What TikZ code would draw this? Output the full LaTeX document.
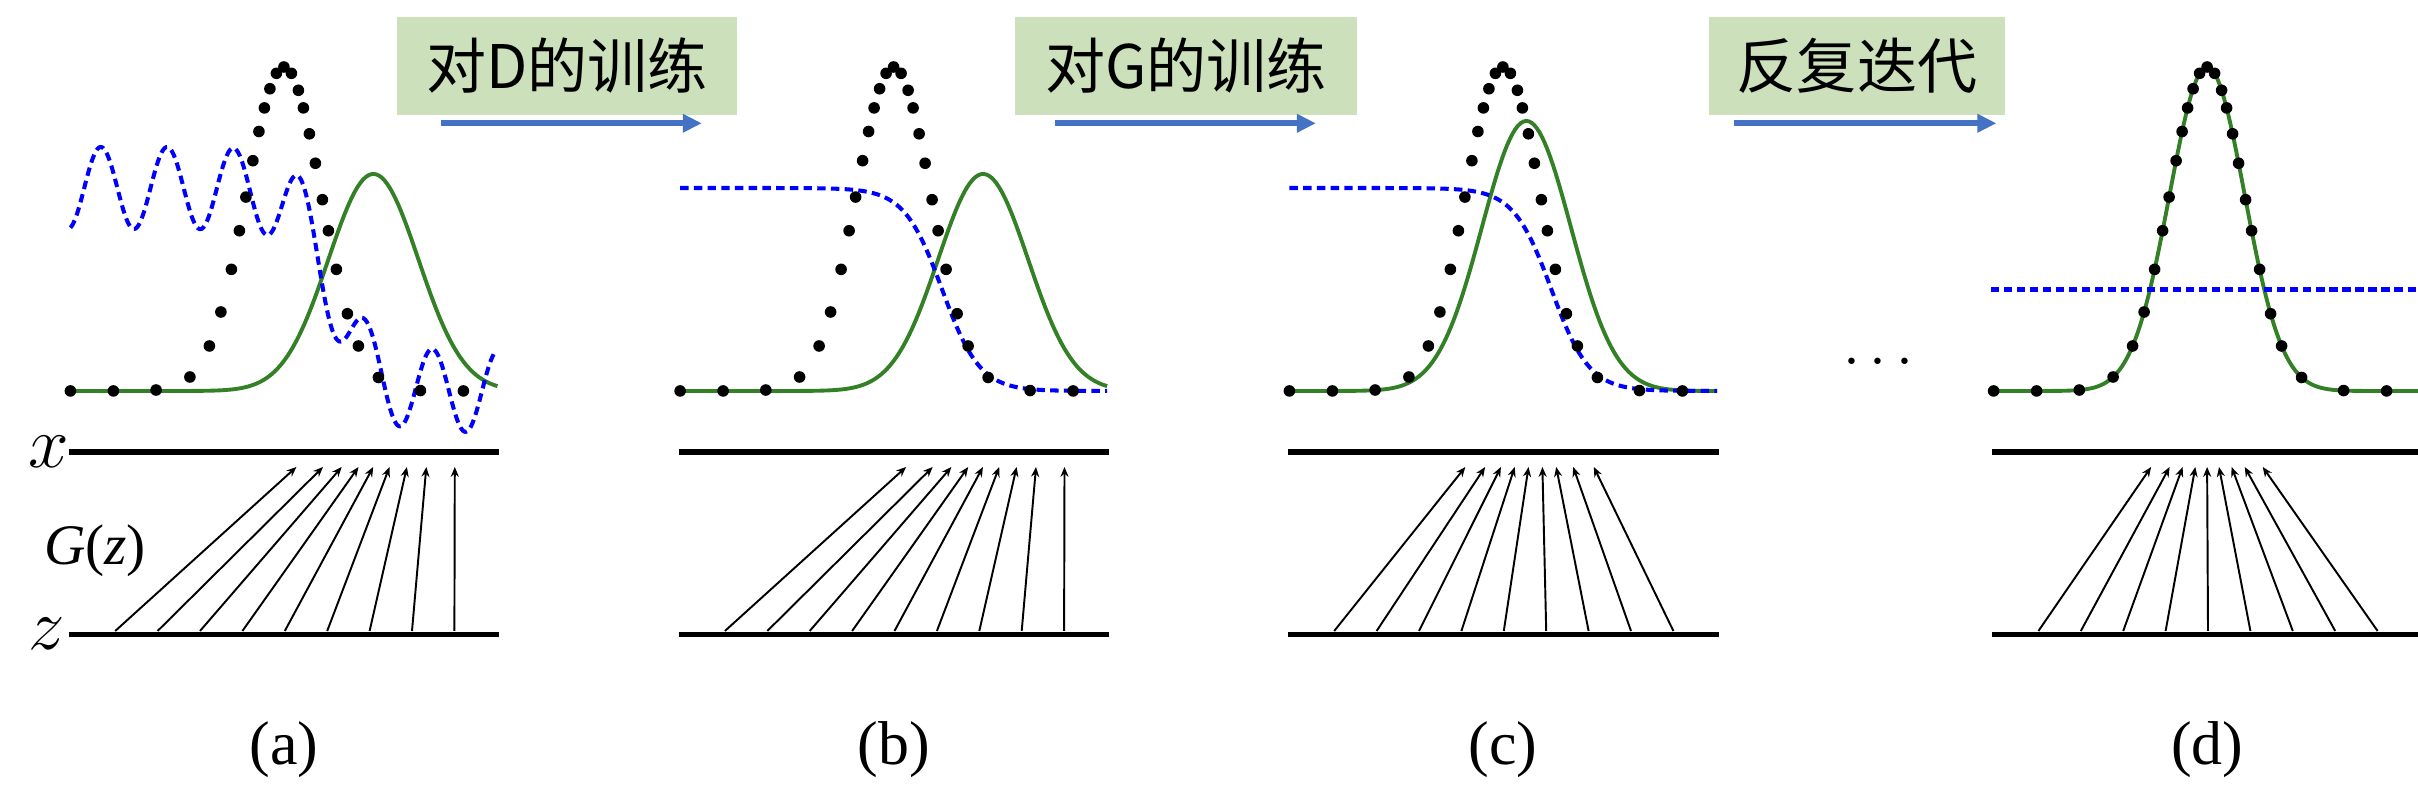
\documentclass[tikz,border=0pt]{standalone}
\usepackage{fontspec}
\setmainfont{Liberation Serif}
\newfontfamily\cjk{Noto Sans CJK SC}
\usetikzlibrary{arrows.meta}
\definecolor{boxgreen}{RGB}{204,224,187}
\definecolor{arrowblue}{RGB}{68,114,196}
\definecolor{pgreen}{RGB}{52,128,38}
\definecolor{dblue}{RGB}{0,0,255}
\newcommand\PanelAxes[2]{%
  \foreach \t [count=\k from 0] in {#2} \draw[garrow] ({44.8+42.4*\k},631) -- (\t,467);
  \draw[axisline] (-1.5,452) -- (#1,452);
  \draw[axisline] (-1.5,634.5) -- (#1,634.5);
}
\newcommand\DataDots{%
  \foreach \d in {-213.5,-170.5,-127.8,-94,-74.5,-63,-52.5,-44.5,-38,-31,-25,-19.5,-14,-7.5,0,7.5,14.5,19.5,25.5,31.5,38.5,44.5,52.5,63.5,74.5,94.5,136.5,179.5}
    \fill[pdata] ({213.5+\d},{391-gauss(\d,0,37.5,324)}) circle[radius=1.65pt];
}
\begin{document}
\begin{tikzpicture}[x=0.01cm,y=-0.01cm,
  titlebox/.style={fill=boxgreen, minimum height=27.9pt, inner sep=0pt, font=\cjk\fontsize{17.07}{20}\selectfont},
  flowarrow/.style={draw=arrowblue, line width=1.7pt, -{Triangle[length=5.4pt,width=5pt]}},
  axisline/.style={line width=1.6pt, black},
  garrow/.style={line width=0.55pt, -{Stealth[length=2.8pt,width=2.3pt]}},
  pdata/.style={fill=black},
  pgen/.style={draw=pgreen, line width=1.1pt},
  disc/.style={draw=dblue, line width=1.15pt, dash pattern=on 2.4pt off 1.5pt},
  discflat/.style={draw=dblue, line width=1.35pt, dash pattern=on 2.3pt off 1.4pt},
  panellabel/.style={anchor=base, font=\fontsize{17.6}{21}\selectfont},
  declare function={
    gauss(\t,\c,\s,\h)=\h*exp(max(-9,-0.5*((\t-\c)/\s)^2));
    sigm(\t)=203/(1+exp(min(9,max(-9,(262-\t)/18.9))));
  }]
\useasboundingbox (0,0) rectangle (2418,804);

% ---------- titles and flow arrows
\node[titlebox, minimum width=96.7pt] (t1) at (567,66) {对D的训练};
\node[titlebox, minimum width=97.4pt] (t2) at (1185.8,66) {对G的训练};
\node[titlebox, minimum width=84.2pt] (t3) at (1857,66) {反复迭代};
\coordinate (f1s) at (440.7,123.3); \coordinate (f1e) at (701.8,123.3);
\coordinate (f2s) at (1054.8,123.3); \coordinate (f2e) at (1315.9,123.3);
\coordinate (f3s) at (1734,123.3); \coordinate (f3e) at (1996.4,123.3);
\draw[flowarrow] (f1s) -- (f1e);
\draw[flowarrow] (f2s) -- (f2e);
\draw[flowarrow] (f3s) -- (f3e);

% ---------- axis labels
\node (xlab) at (49,451.5) {\fontsize{21}{25}\selectfont $x$};
\node (zlab) at (46.7,634) {\fontsize{21}{25}\selectfont $z$};
\node[anchor=base west, inner sep=0pt] (glab) at (43.3,565) {\fontsize{16.3}{19}\selectfont\textit{G}(\textit{z})};
\node[anchor=base, inner sep=0pt] (ellip) at (1878.5,376.7) {\fontsize{16}{19}\selectfont$\cdots$};

% ---------- panel (a)
\begin{scope}[shift={(70.4,0)}]
  \PanelAxes{428.6}{226,252.6,271.3,288.1,302.8,319.1,336.5,355.9,384.4}
  \draw[pgen] plot[domain=0:427, samples=160] ({\x},{391-gauss(\x,303,45,217)});
  \draw[disc] plot[domain=0:425.6, samples=400] ({\x},{188+sigm(\x)-41*cos(5.42986*(\x-30.4))});
  \DataDots
  \node[panellabel] (la) at (213.5,765) {(a)};
\end{scope}

% ---------- panel (b)
\begin{scope}[shift={(680.1,0)}]
  \PanelAxes{429}{226,252.6,271.3,288.1,302.8,319.1,336.5,355.9,384.4}
  \draw[pgen] plot[domain=0:427, samples=160] ({\x},{391-gauss(\x,303,45,217)});
  \draw[disc] plot[domain=0:427, samples=200] ({\x},{188+sigm(\x)});
  \DataDots
  \node[panellabel] (lb) at (213.5,765) {(b)};
\end{scope}

% ---------- panel (c)
\begin{scope}[shift={(1289.4,0)}]
  \PanelAxes{429.6}{175.9,195.7,211.5,225.3,239.1,253,266.8,283.8,304.4}
  \draw[pgen] plot[domain=0:427.7, samples=160] ({\x},{391-gauss(\x,237,44.5,270)});
  \draw[disc] plot[domain=0:427.7, samples=200] ({\x},{188+sigm(\x)});
  \DataDots
  \node[panellabel] (lc) at (213.5,765) {(c)};
\end{scope}

% ---------- panel (d)
\begin{scope}[shift={(1993.6,0)}]
  \PanelAxes{424.4}{157.5,176,189,201.7,213.5,225.4,238,251.1,269.1}
  \draw[pgen] plot[domain=0:424.4, samples=160] ({\x},{391-gauss(\x,213.5,37.5,324)});
  \draw[discflat] (-2.5,289.3) -- (424.4,289.3);
  \DataDots
  \node[panellabel] (ld) at (213.5,765) {(d)};
\end{scope}
\end{tikzpicture}
\end{document}
